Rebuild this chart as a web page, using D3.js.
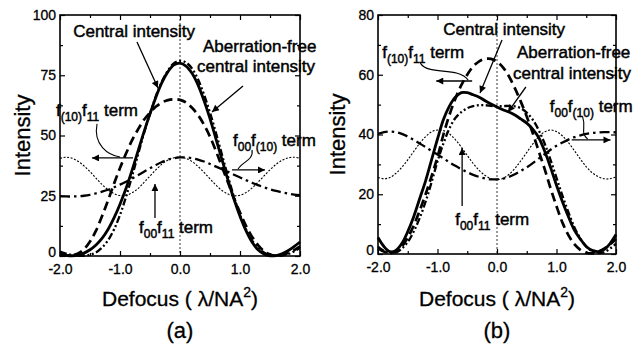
<!DOCTYPE html>
<html><head><meta charset="utf-8">
<script src="https://cdn.jsdelivr.net/npm/d3@7"></script>
<style>
html,body{margin:0;padding:0;background:#fff;}
svg{display:block;font-family:"Liberation Sans",Arial,Helvetica,sans-serif;}
</style></head><body>
<svg id="c" width="639" height="347"></svg>
<script>
// ---------- data ----------
const defocus = [-2.0,-1.9,-1.8,-1.7,-1.6,-1.5,-1.4,-1.3,-1.2,-1.1,-1.0,-0.9,-0.8,-0.7,-0.6,-0.5,-0.4,-0.3,-0.2,-0.1,0.0,0.1,0.2,0.3,0.4,0.5,0.6,0.7,0.8,0.9,1.0,1.1,1.2,1.3,1.4,1.5,1.6,1.7,1.8,1.9,2.0];

// panel (a)
const aCentral = [0.8,0.3,0.1,0.4,1.2,2.6,4.6,7.3,11,15.8,21.5,28,35.5,43.5,51.5,59,66,72,76.5,79.3,80,78.8,75.8,71,64.5,57,48.5,40,31.5,23.5,16.5,10.5,5.8,2.6,0.8,0.1,0.2,0.9,2.2,3.9,5.8];
const aFree    = [1.8,1,0.4,0.1,0.1,0.5,1.5,3.5,6.5,11,17,24.5,33,42,51,59,66.5,72.5,77,80,81,80.3,77.8,73.3,67,59.5,51,42,33,24.5,17,11,6.5,3.5,1.5,0.5,0.1,0.2,0.8,1.9,3.3];
const aF10F11  = [0.5,0.2,0.3,1,2.8,6,10.5,16.5,23,30,36.5,42.5,48,52.5,56.5,59.5,62,63.7,64.7,65,64.8,63.7,61.5,58.5,54.5,49.5,43.5,37,30.5,24,18,12.5,8,4.5,2,0.6,0.1,0.4,1.2,2.4,4];
const aF00F11  = [40.5,41,40.6,39.3,37.4,35,32.3,29.7,27.5,25.9,25.1,25.2,26.2,28,30.5,33.2,35.8,38.1,39.8,40.8,41,40.5,39.2,37.2,34.7,32,29.4,27.2,25.7,25,25.2,26.3,28.2,30.6,33.2,35.8,38,39.7,40.7,41,40.6];
const aF00F10  = [24.8,24.7,24.7,24.8,25,25.4,26,26.7,27.5,28.5,29.6,30.8,32.1,33.5,35,36.4,37.8,39,40,40.6,40.9,40.9,40.6,40,39.2,38.2,37.1,36,34.9,33.7,32.6,31.5,30.4,29.4,28.5,27.7,27,26.4,25.9,25.5,25.3];

// panel (b)
const bCentral = [5.5,2.5,0.8,1.2,3.5,7.5,12.5,18.5,24.5,31.5,38.5,45,49.5,52.5,54,54,53.3,52.5,51.3,50.2,49.2,48.3,47.5,46.5,45.2,43.8,41.8,39,34.5,29,23,17.5,12.5,8,5,2.5,1.2,0.8,1.5,3.5,6.5];
const bFree    = [2.5,1,0.3,0.5,1.8,4,7.5,12,17.5,24,31,37,42,45.5,47.5,48.8,49.5,49.8,49.8,49.6,49.4,49.5,49.6,49.4,48.8,47.3,45,41.5,37,31.5,25.5,19.5,14,9,5.2,2.5,0.9,0.3,0.6,1.8,3.5];
const bF10F11  = [2,0.8,0.3,0.8,2.5,5.5,9.5,14.5,20,26,32.5,40,46.5,52,56.5,60,62.8,64.5,65.3,65.3,64.4,62.5,59.5,55.5,51,46,40.5,34.5,28.5,22,16,10.5,6.3,3.3,1.4,0.4,0.2,0.8,1.8,3.2,5];
const bF00F11  = [25.6,25.2,25.6,27,29,31.5,34.3,37,39.3,40.9,41.5,41.3,40.2,38.3,35.8,33,30.3,28,26.3,25.2,24.9,25.3,26.6,28.6,31.2,34,36.8,39.2,40.9,41.5,41,39.5,37.3,34.6,31.8,29.2,27.2,25.9,25.2,25.2,25.8];
const bF00F10  = [40.2,40.8,41,40.8,40.2,39.3,38.2,37,35.8,34.5,33.3,32,30.7,29.5,28.4,27.4,26.5,25.8,25.3,25,25,25.2,25.8,26.7,27.8,29,30.4,31.9,33.4,34.9,36.2,37.3,38.3,39.1,39.7,40.2,40.5,40.7,40.8,40.8,40.7];

// ticks
const xTicks = [-2,-1,0,1,2];
const xMinor = [-1.5,-0.5,0.5,1.5];
const aYTicks = [0,25,50,75,100];
const aYMinor = [12.5,37.5,62.5,87.5];
const bYTicks = [0,20,40,60,80];
const bYMinor = [10,30,50,70];

// ---------- styles ----------
const styles = {
  central: {w:2.8, dash:null},
  free:    {w:2.3, dash:"7,2.5,2,2.5,2,2.5"},
  f10f11:  {w:2.7, dash:"9,5"},
  f00f11:  {w:1.1, dash:"2,1.6"},
  f00f10:  {w:2.3, dash:"10,4,2.5,4"}
};

const svg = d3.select('#c');
const defs = svg.append('defs');
defs.append('marker').attr('id','ah').attr('viewBox','0 0 10 10')
  .attr('refX',10).attr('refY',5).attr('markerUnits','userSpaceOnUse')
  .attr('markerWidth',10).attr('markerHeight',7).attr('orient','auto')
  .append('path').attr('d','M0,0L10,5L0,10z').attr('fill','#000');

function drawPanel(cfg){
  const x = d3.scaleLinear().domain([-2,2]).range([cfg.left, cfg.right]);
  const y = d3.scaleLinear().domain([0,cfg.yMax]).range([cfg.bottom, cfg.top]);
  const g = svg.append('g');

  // zero line
  g.append('line').attr('x1',x(0)).attr('x2',x(0)).attr('y1',cfg.top).attr('y2',cfg.bottom)
    .attr('stroke','#000').attr('stroke-width',0.8).attr('stroke-dasharray','2,2');

  // curves
  const line = d3.line().x((d,i)=>x(defocus[i])).y(d=>y(d)).curve(d3.curveCatmullRom.alpha(0.5));
  cfg.series.forEach(s=>{
    const st = styles[s.key];
    g.append('path').attr('d', line(s.values)).attr('fill','none')
      .attr('stroke','#000').attr('stroke-width',st.w)
      .attr('stroke-dasharray', st.dash).attr('stroke-linejoin','round');
  });

  // axes
  const fontTick = g => g.selectAll('text').attr('font-size',14).attr('font-family','"Liberation Sans",Arial,sans-serif')
      .attr('fill','#000').attr('stroke','#000').attr('stroke-width',0.3);
  const clean = g => { g.select('.domain').remove(); g.selectAll('line').attr('stroke','#000').attr('stroke-width',1.2); };
  g.append('g').attr('transform',`translate(0,${cfg.bottom})`)
    .call(d3.axisBottom(x).tickValues(xTicks).tickSizeInner(-5).tickSizeOuter(0).tickPadding(8).tickFormat(d=>d.toFixed(1)))
    .call(clean).call(fontTick);
  g.append('g').attr('transform',`translate(0,${cfg.bottom})`)
    .call(d3.axisBottom(x).tickValues(xMinor).tickSizeInner(-3).tickSizeOuter(0).tickFormat(''))
    .call(clean);
  g.append('g').attr('transform',`translate(0,${cfg.top})`)
    .call(d3.axisTop(x).tickValues(xTicks).tickSizeInner(-5).tickSizeOuter(0).tickFormat(''))
    .call(clean);
  g.append('g').attr('transform',`translate(0,${cfg.top})`)
    .call(d3.axisTop(x).tickValues(xMinor).tickSizeInner(-3).tickSizeOuter(0).tickFormat(''))
    .call(clean);
  const yl = g.append('g').attr('transform',`translate(${cfg.left},0)`)
    .call(d3.axisLeft(y).tickValues(cfg.yTicks).tickSizeInner(-5).tickSizeOuter(0).tickPadding(4))
    .call(clean).call(fontTick);
  yl.selectAll('.tick').filter(d=>d===0).select('text').attr('dy','0.05em');
  g.append('g').attr('transform',`translate(${cfg.left},0)`)
    .call(d3.axisLeft(y).tickValues(cfg.yMinor).tickSizeInner(-3).tickSizeOuter(0).tickFormat(''))
    .call(clean);
  g.append('g').attr('transform',`translate(${cfg.right},0)`)
    .call(d3.axisRight(y).tickValues(cfg.yTicks).tickSizeInner(-5).tickSizeOuter(0).tickFormat(''))
    .call(clean);
  g.append('g').attr('transform',`translate(${cfg.right},0)`)
    .call(d3.axisRight(y).tickValues(cfg.yMinor).tickSizeInner(-3).tickSizeOuter(0).tickFormat(''))
    .call(clean);

  // frame
  g.append('rect').attr('x',cfg.left).attr('y',cfg.top).attr('width',cfg.right-cfg.left).attr('height',cfg.bottom-cfg.top)
    .attr('fill','none').attr('stroke','#000').attr('stroke-width',1.6);

  // axis titles
  g.append('text').attr('transform',`translate(${cfg.ylabX},${(cfg.top+cfg.bottom)/2}) rotate(-90)`)
    .attr('text-anchor','middle').attr('dy','0.35em').attr('font-size',22).attr('stroke','#000').attr('stroke-width',0.3).text('Intensity');
  const xl = g.append('text').attr('x',x(0)).attr('y',306).attr('text-anchor','middle').attr('font-size',21).attr('stroke','#000').attr('stroke-width',0.3);
  xl.append('tspan').text('Defocus ( \u03bb/NA');
  xl.append('tspan').attr('font-size',14).attr('dy',-9).text('2');
  xl.append('tspan').attr('dy',9).text(')');
  g.append('text').attr('x',x(0)).attr('y',338).attr('text-anchor','middle').attr('font-size',22).attr('stroke','#000').attr('stroke-width',0.3).text(cfg.caption);

  // annotations
  const ann = g.append('g').attr('font-size',17).attr('stroke','#000').attr('stroke-width',0.45);
  const plain = (t,px,py)=> ann.append('text').attr('x',x(px)).attr('y',y(py)).text(t);
  const sub = (parts,px,py)=>{
    const t = ann.append('text').attr('x',x(px)).attr('y',y(py));
    let low = false;
    parts.forEach(p=>{
      if(p.s){ t.append('tspan').attr('font-size',12).attr('dy',5).text(p.s); low = true; }
      else { t.append('tspan').attr('dy', low ? -5 : 0).text(p.t); low = false; }
    });
  };
  const arrow = (x1,y1,x2,y2)=> ann.append('line').attr('x1',x(x1)).attr('y1',y(y1)).attr('x2',x(x2)).attr('y2',y(y2))
      .attr('stroke','#000').attr('stroke-width',1.3).attr('marker-end','url(#ah)');
  const curve = (pts)=> ann.append('path')
      .attr('d',`M${x(pts[0][0])},${y(pts[0][1])}C${x(pts[1][0])},${y(pts[1][1])} ${x(pts[2][0])},${y(pts[2][1])} ${x(pts[3][0])},${y(pts[3][1])}`)
      .attr('fill','none').attr('stroke','#000').attr('stroke-width',1.1);
  const A = cfg.ann;
  plain('Central intensity', ...A.ci);
  arrow(...A.ciArrow);
  plain('Aberration-free', ...A.af1);
  plain('central intensity', ...A.af2);
  arrow(...A.afArrow);
  sub([{t:'f'},{s:'(10)'},{t:'f'},{s:'11'},{t:' term'}], ...A.t1);
  curve(A.t1Curve);
  arrow(...A.t1Arrow);
  sub([{t:'f'},{s:'00'},{t:'f'},{s:'(10)'},{t:' term'}], ...A.t2);
  curve(A.t2Curve);
  arrow(...A.t2Arrow);
  sub([{t:'f'},{s:'00'},{t:'f'},{s:'11'},{t:' term'}], ...A.t3);
  arrow(...A.t3Arrow);
}

drawPanel({
  left:60, right:300, top:15, bottom:256, yMax:100, yTicks:aYTicks, yMinor:aYMinor, ylabX:22, caption:'(a)',
  series:[
    {key:'f00f11', values:aF00F11},
    {key:'f00f10', values:aF00F10},
    {key:'f10f11', values:aF10F11},
    {key:'free', values:aFree},
    {key:'central', values:aCentral}
  ],
  ann:{
    ci:[-1.78,90.9], ciArrow:[-0.717,88.8,-0.367,69.7],
    af1:[0.383,84.6], af2:[0.283,76.3], afArrow:[1.05,70.5,0.533,59.75],
    t1:[-2.067,58.1], t1Curve:[[-1.383,54.8],[-1.45,46.1],[-1.2,41.9],[-1.0,41.1]], t1Arrow:[-0.783,40.7,-1.467,40.7],
    t2:[0.883,45.6], t2Curve:[[1.2,44.0],[1.233,39.8],[1.033,39.0],[0.967,36.1]], t2Arrow:[0.867,35.7,1.417,35.7],
    t3:[-0.683,9.5], t3Arrow:[-0.417,15.8,-0.417,29.9]
  }
});

drawPanel({
  left:378, right:616, top:15, bottom:254, yMax:80, yTicks:bYTicks, yMinor:bYMinor, ylabX:337, caption:'(b)',
  series:[
    {key:'f00f11', values:bF00F11},
    {key:'f00f10', values:bF00F10},
    {key:'f10f11', values:bF10F11},
    {key:'free', values:bFree},
    {key:'central', values:bCentral}
  ],
  ann:{
    ci:[-0.904,73.3], ciArrow:[0.084,71.6,-0.285,53.9],
    af1:[0.335,65.6], af2:[0.268,58.6], afArrow:[0.485,55.9,0.184,47.5],
    t1:[-1.93,65.6], t1Curve:[[-1.289,63.9],[-1.155,59.6],[-0.653,62.9],[-0.485,58.2]], t1Arrow:[-0.418,57.9,-1.021,57.9],
    t2:[0.887,47.5], t2Curve:[[1.439,45.9],[1.506,42.2],[1.389,40.8],[1.523,38.5]], t2Arrow:[1.255,38.2,1.908,38.2],
    t3:[-0.703,9.7], t3Arrow:[-0.586,16.1,-0.586,35.5]
  }
});
</script>
</body></html>
